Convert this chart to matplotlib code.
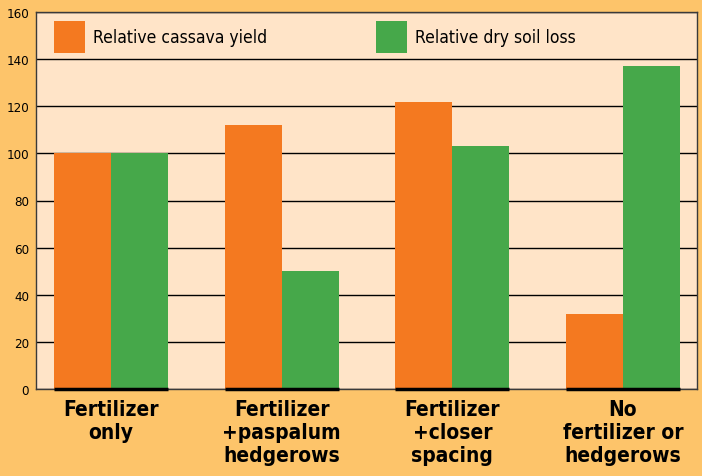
"""Relative cassava yield and dry soil loss by treatment."""

import matplotlib as mpl
from matplotlib import pyplot as plt
import numpy as np

mpl.use("Agg")

# Data
treatments = [
    "Fertilizer\nonly",
    "Fertilizer\n+paspalum\nhedgerows",
    "Fertilizer\n+closer\nspacing",
    "No\nfertilizer or\nhedgerows",
]
cassava_yield = [100, 112, 122, 32]
soil_loss = [100, 50, 103, 137]
y_ticks = [0, 20, 40, 60, 80, 100, 120, 140, 160]

ORANGE = "#F47920"
GREEN = "#46A84A"
OUTER_BG = "#FDC46A"
PLOT_BG = "#FFE4C8"

plt.rcParams["font.family"] = ["DejaVu Sans"]
plt.rcParams["font.stretch"] = "condensed"

fig = plt.figure(figsize=(7.02, 4.77), dpi=100, facecolor=OUTER_BG)
ax = fig.add_axes([36 / 702, 87 / 477, 661 / 702, 377 / 477])
ax.set_facecolor(PLOT_BG)

x = np.arange(len(treatments))
width = 0.334

ax.bar(x - width / 2, cassava_yield, width, color=ORANGE,
       label="Relative cassava yield", zorder=3)
ax.bar(x + width / 2, soil_loss, width, color=GREEN,
       label="Relative dry soil loss", zorder=3)

# Thick baseline under each bar pair
ax.hlines(np.zeros(len(x)), x - width, x + width, color="black", lw=2.5,
          zorder=4, clip_on=False)

ax.set_xlim(-0.44, 3.434)
ax.set_ylim(0, 160)
ax.set_yticks(y_ticks)
ax.set_xticks(x)
ax.set_xticklabels(treatments, fontsize=15, fontweight="bold",
                   linespacing=1.2)
ax.tick_params(axis="x", length=0, pad=7)
ax.tick_params(axis="y", length=0, pad=5, labelsize=9.5)

ax.grid(axis="y", color="black", lw=1, zorder=1)
ax.set_axisbelow(True)

for spine in ax.spines.values():
    spine.set_color("#3a3a3a")
    spine.set_linewidth(1)

ax.legend(
    loc="upper left",
    bbox_to_anchor=(18 / 661, 1 - 9 / 377),
    ncol=2,
    frameon=False,
    fontsize=12.5,
    handlelength=1.78,
    handleheight=2.45,
    handletextpad=0.45,
    columnspacing=6.3,
    borderpad=0,
    borderaxespad=0,
)

fig.savefig("out.png", dpi=100, facecolor=OUTER_BG)
plt.close(fig)
